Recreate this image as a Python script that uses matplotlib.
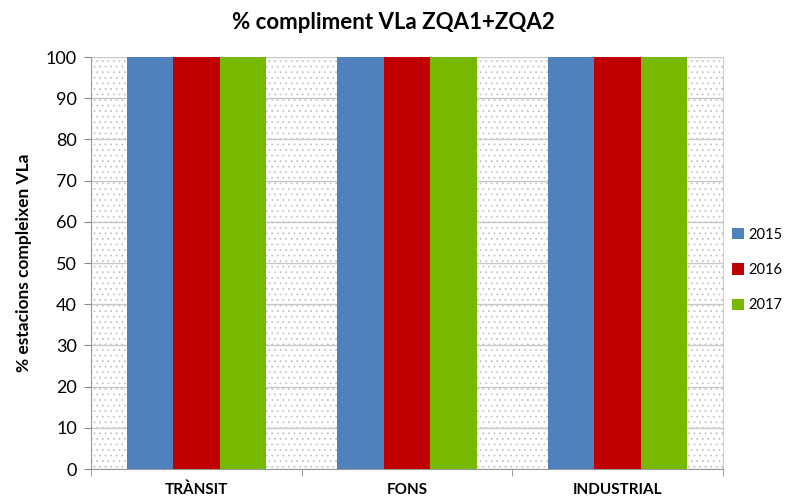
import matplotlib
matplotlib.use("Agg")
import matplotlib.pyplot as plt
import numpy as np

categories = ["TRÀNSIT", "FONS", "INDUSTRIAL"]
years = ["2015", "2016", "2017"]
values_2015 = [100, 100, 100]
values_2016 = [100, 100, 100]
values_2017 = [100, 100, 100]
series = [values_2015, values_2016, values_2017]
colors = ["#4F81BD", "#C00000", "#77B900"]

plt.rcParams['font.family'] = ['Lato', 'DejaVu Sans']
plt.rcParams['hatch.linewidth'] = 0.6
plt.rcParams['hatch.color'] = '#c4c4c4'

fig = plt.figure(figsize=(7.87, 5.0), dpi=100)
ax = fig.add_axes([91/787, 1-469/500, (723-91)/787, (469-57)/500])

x = np.arange(len(categories))
w = 0.22
for i, (vals, c, y) in enumerate(zip(series, colors, years)):
    ax.bar(x + (i-1)*w, vals, width=w, color=c, label=y, zorder=3, linewidth=0)

ax.set_xlim(-0.5, len(categories)-0.5)
ax.set_ylim(0, 100)
ax.set_yticks(np.arange(0, 101, 10))
ax.tick_params(axis='y', labelsize=13, length=5, color='#888888', direction='out', pad=5)
ax.set_xticks(x)
ax.set_xticklabels(categories, fontsize=11, fontweight='bold')
ax.tick_params(axis='x', length=0, pad=10)
ax.set_xticks(np.arange(-0.5, len(categories), 1), minor=True)
ax.tick_params(axis='x', which='minor', length=5, color='#888888')

ax.patch.set_facecolor('white')
ax.patch.set_hatch('...')
ax.patch.set_edgecolor('#c4c4c4')
ax.patch.set_linewidth(0)

ax.grid(axis='y', color='#c8c8c8', linewidth=1, zorder=2)
ax.set_axisbelow(True)
ax.spines['top'].set_visible(False)
for s in ['left', 'bottom']:
    ax.spines[s].set_color('#999999')
ax.spines['right'].set_color('#cccccc')

ax.set_ylabel("% estacions compleixen VLa", fontsize=12.5, fontweight='bold', labelpad=10)
fig.text(0.5, 0.955, "% compliment VLa ZQA1+ZQA2", ha='center', va='center', fontsize=16, fontweight='bold')

ax.legend(loc='center left', bbox_to_anchor=(1.014, 0.483), frameon=False, fontsize=10.5,
          handlelength=0.8, handleheight=0.8, handletextpad=0.35, labelspacing=1.45,
          borderaxespad=0, borderpad=0)

fig.savefig("out.png", dpi=100)
